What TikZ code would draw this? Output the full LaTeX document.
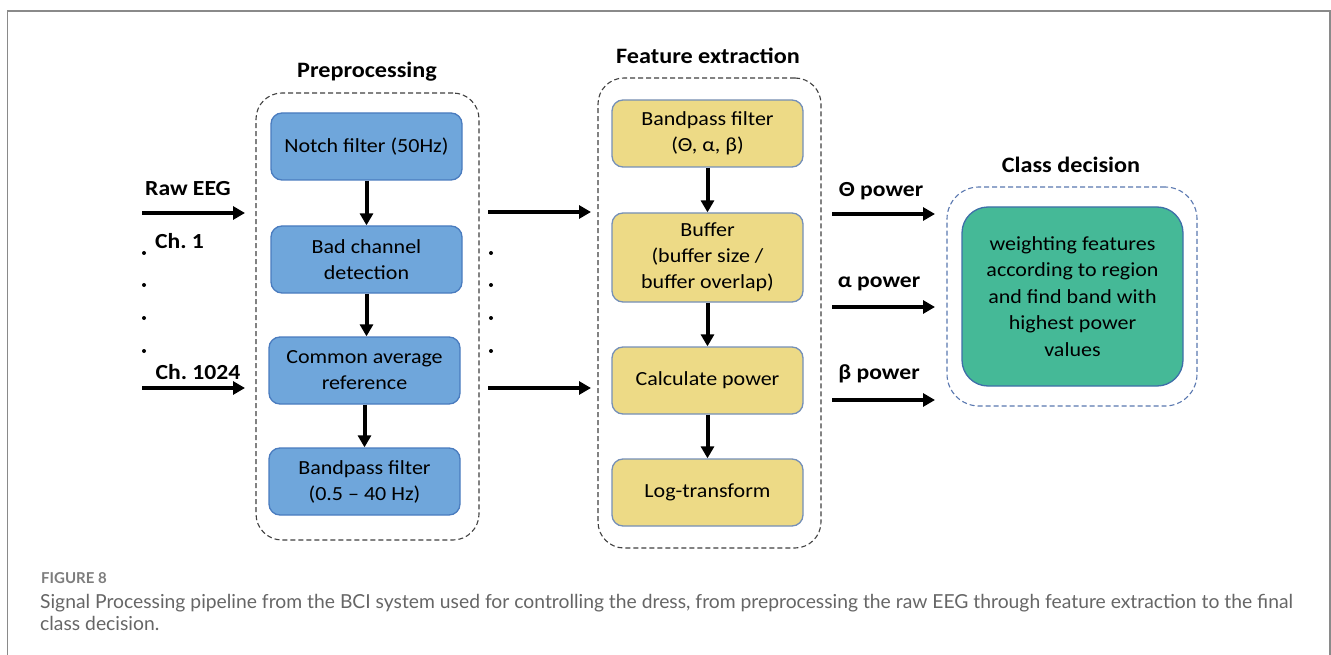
\documentclass[tikz,border=0pt]{standalone}
\usepackage{fontspec}
\setmainfont{Carlito}[FakeStretch=1.1]
\newfontfamily\capfont{Lato}
\usetikzlibrary{arrows.meta}
\definecolor{bluefill}{HTML}{6FA6DB}
\definecolor{blueedge}{HTML}{4A7CBF}
\definecolor{yelfill}{HTML}{EDDA86}
\definecolor{yeledge}{HTML}{7590B8}
\definecolor{grnfill}{HTML}{45B997}
\definecolor{grnedge}{HTML}{3E6FA8}
\definecolor{clsdash}{HTML}{5A78B0}
\definecolor{framegray}{HTML}{8A8A8A}
\definecolor{captxt}{HTML}{666666}
\frenchspacing
\begin{document}
\begin{tikzpicture}[x=1pt,y=-1pt,
  container/.style={draw=#1, dash pattern=on 5pt off 3pt, line width=1.1pt,
    rounded corners=26pt, inner sep=0pt},
  procbox/.style={draw=#1, line width=1.3pt, rounded corners=11pt,
    minimum width=191pt, minimum height=67pt, align=center, inner sep=0pt,
    font=\fontsize{20}{26}\selectfont},
  title/.style={font=\fontsize{22}{26}\selectfont\bfseries},
  lbl/.style={font=\fontsize{21.5}{26}\selectfont\bfseries},
  flow/.style={line width=4pt, -{Triangle[length=12pt,width=13pt]}},
  dotmark/.style={circle, fill=black, inner sep=0pt, minimum size=4pt},
  capstyle/.style={font=\capfont\fontsize{19.3}{22}\selectfont, text=captxt, inner sep=0pt}
]
\useasboundingbox (0,0) rectangle (1331,655);
\fill[white] (0,0) rectangle (1331,655);
\draw[framegray, line width=1.4pt] (7.5,655) -- (7.5,11) -- (1330,11) -- (1330,655);

% Preprocessing
\node[title] (pretitle) at (367,72) {Preprocessing};
\node[container=black!75, minimum width=223pt, minimum height=447pt] (precont) at (367.5,316.5) {};
\node[procbox=blueedge, fill=bluefill] (notch) at (366.5,146.5) {Notch filter (50Hz)};
\node[procbox=blueedge, fill=bluefill] (bad) at (366.5,259.5) {Bad channel\\detection};
\node[procbox=blueedge, fill=bluefill] (car) at (364.5,370.5) {Common average\\reference};
\node[procbox=blueedge, fill=bluefill] (bpf) at (364.5,481.5) {Bandpass filter\\(0.5 – 40 Hz)};
\draw[flow] (notch) -- (bad);
\draw[flow] (bad.south) -- (bad.south |- car.north);
\draw[flow] (car) -- (bpf);

% Inputs
\coordinate (in1s) at (142,213);
\coordinate (in1e) at (245,213);
\coordinate (in2s) at (142,388);
\coordinate (in2e) at (245,388);
\draw[flow] (in1s) -- (in1e);
\draw[flow] (in2s) -- (in2e);
\node[lbl] (raweeg) at (188,189) {Raw EEG};
\node[lbl] (ch1) at (179.5,241) {Ch. 1};
\node[lbl] (ch1024) at (198,372) {Ch. 1024};
\node[dotmark] (ld1) at (144,253) {};
\node[dotmark] (ld2) at (144,285) {};
\node[dotmark] (ld3) at (144,318) {};
\node[dotmark] (ld4) at (144,351) {};

% Middle arrows
\coordinate (m1s) at (488,212);
\coordinate (m1e) at (591,212);
\coordinate (m2s) at (488,388);
\coordinate (m2e) at (591,388);
\draw[flow] (m1s) -- (m1e);
\draw[flow] (m2s) -- (m2e);
\node[dotmark] (md1) at (491,253) {};
\node[dotmark] (md2) at (491,285) {};
\node[dotmark] (md3) at (491,318) {};
\node[dotmark] (md4) at (491,351) {};

% Feature extraction
\node[title] (feattitle) at (708,56) {Feature extraction};
\node[container=black!75, minimum width=223pt, minimum height=470pt] (featcont) at (709.5,313) {};
\node[procbox=yeledge, fill=yelfill] (fbpf) at (707.5,133.5) {Bandpass filter\\(Θ, α, β)};
\node[procbox=yeledge, fill=yelfill, minimum height=89pt] (buf) at (707.5,257.5) {Buffer\\(buffer size /\\buffer overlap)};
\node[procbox=yeledge, fill=yelfill] (calc) at (707.5,380.5) {Calculate power};
\node[procbox=yeledge, fill=yelfill] (logt) at (707.5,492.5) {Log-transform};
\draw[flow] (fbpf) -- (buf);
\draw[flow] (buf) -- (calc);
\draw[flow] (calc) -- (logt);

% Outputs
\coordinate (o1s) at (832,214);
\coordinate (o1e) at (935,214);
\coordinate (o2s) at (832,307);
\coordinate (o2e) at (935,307);
\coordinate (o3s) at (832,400);
\coordinate (o3e) at (935,400);
\draw[flow] (o1s) -- (o1e);
\draw[flow] (o2s) -- (o2e);
\draw[flow] (o3s) -- (o3e);
\node[lbl] (thetap) at (881,191) {Θ power};
\node[lbl] (alphap) at (879,284) {α power};
\node[lbl] (betap) at (879,374) {β power};

% Class decision
\node[title] (clstitle) at (1071,165) {Class decision};
\node[container=clsdash, minimum width=250pt, minimum height=219pt, rounded corners=32pt] (clscont) at (1072,296.5) {};
\node[procbox=grnedge, fill=grnfill, minimum width=221pt, minimum height=179pt, rounded corners=26pt,
  font=\fontsize{20}{26.5}\selectfont] (decide) at (1072.5,296.5)
  {weighting features\\according to region\\and find band with\\highest power\\values};

% Caption
\node[capstyle, font=\capfont\fontsize{15}{18}\selectfont\bfseries, text=captxt!85, anchor=base west] (figlabel) at (41,583) {FIGURE 8};
\node[capstyle, anchor=base west] (cap1) at (40,608) {Signal Processing pipeline from the BCI system used for controlling the dress, from preprocessing the raw EEG through feature extraction to the final};
\node[capstyle, anchor=base west] (cap2) at (40,630) {class decision.};
\end{tikzpicture}
\end{document}
